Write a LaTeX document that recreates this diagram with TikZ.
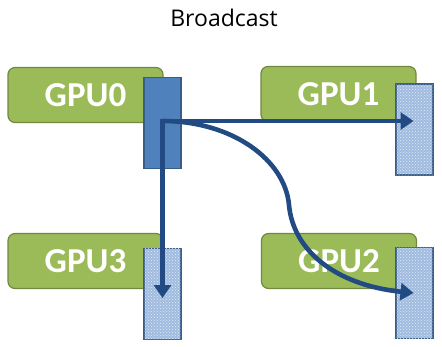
\documentclass[tikz,border=0pt]{standalone}
\usepackage{fontspec}
\setmainfont{Carlito}
\newfontfamily\titlefont{Open Sans}
\usetikzlibrary{arrows.meta, patterns}
\definecolor{gpugreen}{RGB}{155, 187, 89}
\definecolor{gpuedge}{RGB}{113, 137, 63}
\definecolor{bufblue}{RGB}{79, 129, 189}
\definecolor{bufedge}{RGB}{56, 93, 138}
\definecolor{buflight}{RGB}{160, 187, 224}
\definecolor{linkblue}{RGB}{33, 75, 130}

\begin{document}
\begin{tikzpicture}[x=1pt, y=-1pt,
      gpu/.style={rectangle, draw=gpuedge, line width=1.2pt, fill=gpugreen,
                  rounded corners=7pt, minimum width=155pt, minimum height=55pt,
                  inner sep=0pt, text=white, font=\fontsize{35}{37}\selectfont\bfseries},
      buf/.style={rectangle, draw=bufedge, line width=1.4pt,
                  minimum width=37pt, minimum height=91pt, inner sep=0pt},
      srcbuf/.style={buf, fill=bufblue},
      dstbuf/.style={buf, fill=buflight,
                     postaction={pattern=crosshatch dots, pattern color=white!70!buflight}},
      link/.style={-{Triangle[length=13pt, width=17pt]}, line width=4.6pt, draw=linkblue}
    ]
    \useasboundingbox (0,0) rectangle (442,346);
    \node[font=\titlefont\fontsize{23}{25}\selectfont] (title) at (224,18) {Broadcast};

    \node[gpu] (gpu0) at (85.5,95) {GPU0};
    \node[gpu] (gpu1) at (338.5,94) {GPU1};
    \node[gpu] (gpu3) at (85.5,261) {GPU3};
    \node[gpu] (gpu2) at (339,261) {GPU2};

    \node[srcbuf] (buf0) at (162.5,123) {};
    \node[dstbuf] (buf1) at (414.5,129.5) {};
    \node[dstbuf] (buf3) at (162.5,294) {};
    \node[dstbuf] (buf2) at (414.5,293) {};

    % broadcast from GPU0
    \coordinate (src) at ([yshift=2pt]buf0.center);
    \draw[link, line cap=rect] (src) -- ([xshift=-1pt]src -| buf1.center);
    \draw[link, line cap=rect] (src) -- ([yshift=-4pt]src |- buf3.center);
    \draw[link] (src) .. controls ++(70,0) and (285,160) .. (289,205)
                .. controls (293,250) and (335,285) .. ([xshift=-1pt]buf2.center);
  \end{tikzpicture}
\end{document}
